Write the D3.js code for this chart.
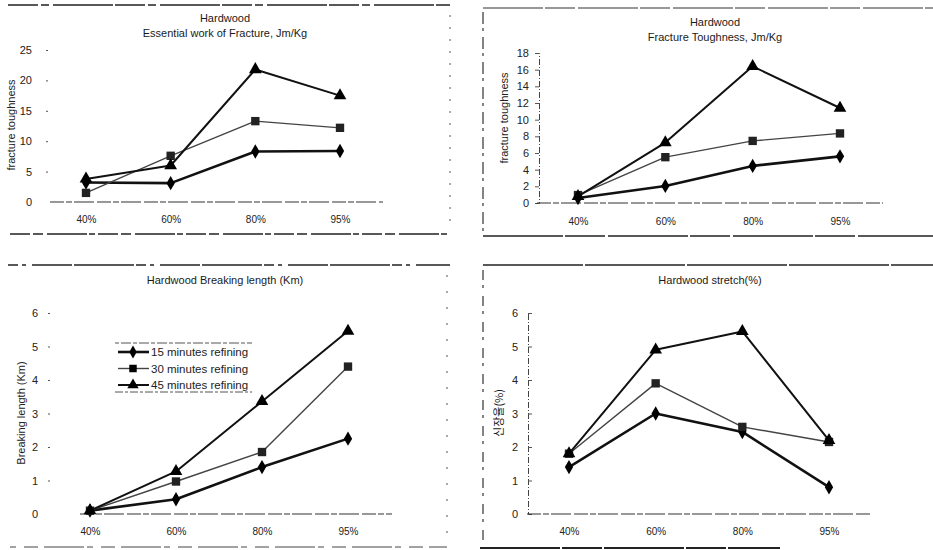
<!DOCTYPE html>
<html>
<head>
<meta charset="utf-8">
<script src="https://cdn.jsdelivr.net/npm/d3@7"></script>
<style>
  body { margin: 0; background: #fff; }
  svg { font-family: "Liberation Sans", Arial, sans-serif; }
  .tick text { fill: #222; }
</style>
</head>
<body>
<svg id="chart" width="933" height="550"></svg>
<script>
// categories on x axis (beating degree)
const categories = ['40%', '60%', '80%', '95%'];
const seriesNames = ['15 minutes refining', '30 minutes refining', '45 minutes refining'];

// Essential work of fracture
const ewf15 = [3.2, 3.1, 8.3, 8.4];
const ewf30 = [1.5, 7.6, 13.3, 12.2];
const ewf45 = [3.8, 6.0, 21.8, 17.5];
const ewfTicks = [0, 5, 10, 15, 20, 25];

// Fracture toughness
const ft15 = [0.6, 2.05, 4.45, 5.6];
const ft30 = [0.95, 5.5, 7.45, 8.35];
const ft45 = [0.8, 7.25, 16.4, 11.4];
const ftTicks = [0, 2, 4, 6, 8, 10, 12, 14, 16, 18];

// Breaking length
const bl15 = [0.1, 0.44, 1.4, 2.25];
const bl30 = [0.1, 0.97, 1.85, 4.4];
const bl45 = [0.1, 1.27, 3.36, 5.46];
const blTicks = [0, 1, 2, 3, 4, 5, 6];

// Stretch
const st15 = [1.4, 3.0, 2.45, 0.8];
const st30 = [1.8, 3.9, 2.6, 2.15];
const st45 = [1.8, 4.9, 5.45, 2.2];
const stTicks = [0, 1, 2, 3, 4, 5, 6];

const svg = d3.select('#chart');

const seriesStyle = [
  { symbol: d3.symbolDiamond, size: 60, width: 2.6, color: '#111' },
  { symbol: d3.symbolSquare, size: 70, width: 1.4, color: '#444' },
  { symbol: d3.symbolTriangle, size: 70, width: 2.0, color: '#111' }
];

function dashedLine(points, dash, color, width) {
  svg.append('path')
    .attr('d', d3.line()(points))
    .attr('fill', 'none')
    .attr('stroke', color || '#333')
    .attr('stroke-width', width || 1.2)
    .attr('stroke-dasharray', dash || null);
}

function drawPanel(p) {
  const g = svg.append('g');
  const x = d3.scalePoint().domain(categories).range(p.xRange);
  const y = d3.scaleLinear().domain([0, d3.max(p.ticks)]).range(p.yRange);

  // titles
  p.title.forEach((t, i) => {
    g.append('text')
      .attr('x', p.titleX).attr('y', p.titleY + i * 15)
      .attr('text-anchor', 'middle')
      .style('font-size', '11px')
      .style('fill', '#1a1a1a')
      .text(t);
  });

  // y axis
  const yAxis = g.append('g')
    .attr('transform', `translate(${p.yAxisX},0)`)
    .call(d3.axisLeft(y).tickValues(p.ticks).tickFormat(d3.format('d'))
      .tickSize(p.yTickSize).tickPadding(p.yTickPad));
  yAxis.selectAll('.tick text').style('font-size', '11px');
  yAxis.selectAll('.tick line').attr('stroke', '#555');
  if (p.yLine) {
    yAxis.select('.domain').attr('stroke', '#444').attr('stroke-dasharray', '6,2,1,2');
  } else {
    yAxis.select('.domain').remove();
  }
  yAxis.selectAll('.tick').filter(d => d === 0).select('line').remove();

  // x axis
  const xAxis = g.append('g')
    .attr('transform', `translate(0,${y(0)})`)
    .call(d3.axisBottom(x).tickSize(0).tickPadding(p.xTickPad));
  xAxis.select('.domain').remove();
  xAxis.selectAll('.tick text').style('font-size', '10px');
  g.append('path')
    .attr('d', d3.line()([[p.xLine[0], y(0)], [p.xLine[1], y(0)]]))
    .attr('stroke', '#333').attr('stroke-width', 1.2)
    .attr('stroke-dasharray', '14,2,6,2,20,3');

  // y label
  g.append('text')
    .attr('transform', `translate(${p.yLabelX},${p.yLabelY}) rotate(-90)`)
    .attr('text-anchor', 'middle')
    .style('font-size', '11px')
    .style('font-family', p.yLabelFont || null)
    .style('fill', '#222')
    .text(p.yLabel);

  // series
  p.series.forEach((vals, i) => {
    const s = seriesStyle[i];
    const pts = vals.map((v, j) => [x(categories[j]), y(v)]);
    g.append('path')
      .attr('d', d3.line()(pts))
      .attr('fill', 'none')
      .attr('stroke', s.color)
      .attr('stroke-width', s.width)
      .attr('stroke-linejoin', 'round');
    g.selectAll(null).data(pts).enter().append('path')
      .attr('d', d3.symbol().type(s.symbol).size(s.size))
      .attr('transform', d => `translate(${d[0]},${d[1]})`)
      .attr('fill', i === 1 ? '#222' : '#000');
  });
}

drawPanel({
  title: ['Hardwood', 'Essential work of Fracture, Jm/Kg'], titleX: 225, titleY: 22,
  xRange: [86, 340], yRange: [202, 50], ticks: ewfTicks,
  yAxisX: 48, yTickSize: 2, yTickPad: 14, yLine: false, xTickPad: 14, xLine: [50, 383],
  yLabel: 'fracture toughness', yLabelX: 15, yLabelY: 125,
  series: [ewf15, ewf30, ewf45]
});

drawPanel({
  title: ['Hardwood', 'Fracture Toughness, Jm/Kg'], titleX: 715, titleY: 26,
  xRange: [578, 840], yRange: [203, 53], ticks: ftTicks,
  yAxisX: 539, yTickSize: 4, yTickPad: 6, yLine: true, xTickPad: 15, xLine: [537, 883],
  yLabel: 'fracture toughness', yLabelX: 508, yLabelY: 118,
  series: [ft15, ft30, ft45]
});

drawPanel({
  title: ['Hardwood Breaking length (Km)'], titleX: 225, titleY: 284,
  xRange: [90, 348], yRange: [514, 313], ticks: blTicks,
  yAxisX: 50, yTickSize: 2, yTickPad: 10, yLine: false, xTickPad: 14, xLine: [80, 392],
  yLabel: 'Breaking length (Km)', yLabelX: 25, yLabelY: 413,
  series: [bl15, bl30, bl45]
});

drawPanel({
  title: ['Hardwood stretch(%)'], titleX: 710, titleY: 284,
  xRange: [569, 829], yRange: [514, 313], ticks: stTicks,
  yAxisX: 528, yTickSize: -4, yTickPad: 10, yLine: true, xTickPad: 14, xLine: [527, 872],
  yLabel: '신장율(%)', yLabelFont: '"Noto Sans CJK KR", sans-serif', yLabelX: 503, yLabelY: 413,
  series: [st15, st30, st45]
});

// legend in breaking length panel
const legend = svg.append('g').attr('transform', 'translate(118,352)');
dashedLine([[115, 343], [252, 343]], '4,2,10,2', '#555', 1);
dashedLine([[115, 392], [252, 392]], '8,2,3,2', '#555', 1);
seriesNames.forEach((name, i) => {
  const s = seriesStyle[i];
  const row = legend.append('g').attr('transform', `translate(0,${i * 16.5})`);
  row.append('line').attr('x1', 0).attr('x2', 31).attr('y1', 0).attr('y2', 0)
    .attr('stroke', s.color).attr('stroke-width', s.width);
  row.append('path').attr('d', d3.symbol().type(s.symbol).size(s.size * 0.8))
    .attr('transform', 'translate(15,0)').attr('fill', '#000');
  row.append('text').attr('x', 33).attr('y', 4)
    .style('font-size', '11.5px').style('fill', '#222').text(name);
});

// scanned frame lines
dashedLine([[8, 5], [450, 5]], '30,3,8,4,60,2', '#222', 1.3);
dashedLine([[10, 234], [447, 234]], '20,3,10,4,40,2,6,3', '#222', 1.3);
dashedLine([[450, 15], [450, 230]], '2,10', '#555', 1);
dashedLine([[483, 8], [933, 8]], '60,2,30,3', '#333', 1.2);
dashedLine([[483, 236], [933, 236]], '80,2,40,3', '#222', 1.3);
dashedLine([[483, 12], [483, 232]], '12,4,3,6', '#333', 1.2);
dashedLine([[8, 265], [450, 265]], '10,4,4,6,40,2,60,2', '#222', 1.3);
dashedLine([[10, 547], [447, 547]], '6,8,14,6,40,3', '#444', 1);
dashedLine([[447, 275], [447, 535]], '2,14', '#555', 1);
dashedLine([[483, 265], [933, 265]], '100,2', '#222', 1.3);
dashedLine([[483, 270], [483, 540]], '10,5,3,8', '#333', 1.2);
dashedLine([[480, 548], [780, 548]], '80,2,40,2', '#222', 1.8);
</script>
</body>
</html>
